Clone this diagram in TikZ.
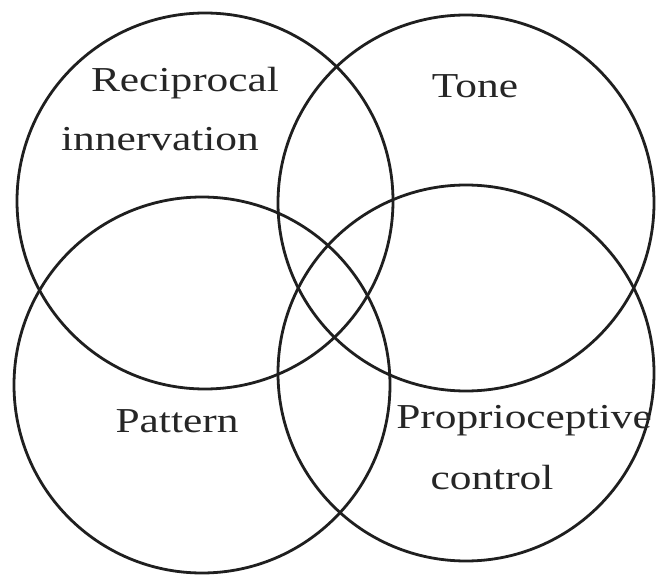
\documentclass[tikz,border=0pt]{standalone}
\usepackage{fontspec}
\setmainfont{Liberation Serif}[FakeStretch=1.24]
\begin{document}
\begin{tikzpicture}[x=1pt,y=-1pt,
  ring/.style={circle,draw=black!88,line width=2.8pt,minimum size=376pt,inner sep=0pt},
  lbl/.style={font=\fontsize{35}{38}\selectfont,text=black!85,inner sep=0pt,align=center}]
  \useasboundingbox (0,0) rectangle (659,575);
  % the four overlapping circles
  \node[ring] (recip) at (205,201) {};
  \node[ring] (tone)  at (466,203) {};
  \node[ring] (patt)  at (202,385) {};
  \node[ring] (prop)  at (466,373) {};
  % labels
  \node[lbl] (tRecipA) at (185,83)  {Reciprocal};
  \node[lbl] (tRecipB) at (160,139) {innervation};
  \node[lbl] (tTone)   at (475,86)  {Tone};
  \node[lbl] (tPatt)   at (177,421) {Pattern};
  \node[lbl] (tPropA)  at (524,421) {Proprioceptive};
  \node[lbl] (tPropB)  at (492,478) {control};
\end{tikzpicture}
\end{document}
